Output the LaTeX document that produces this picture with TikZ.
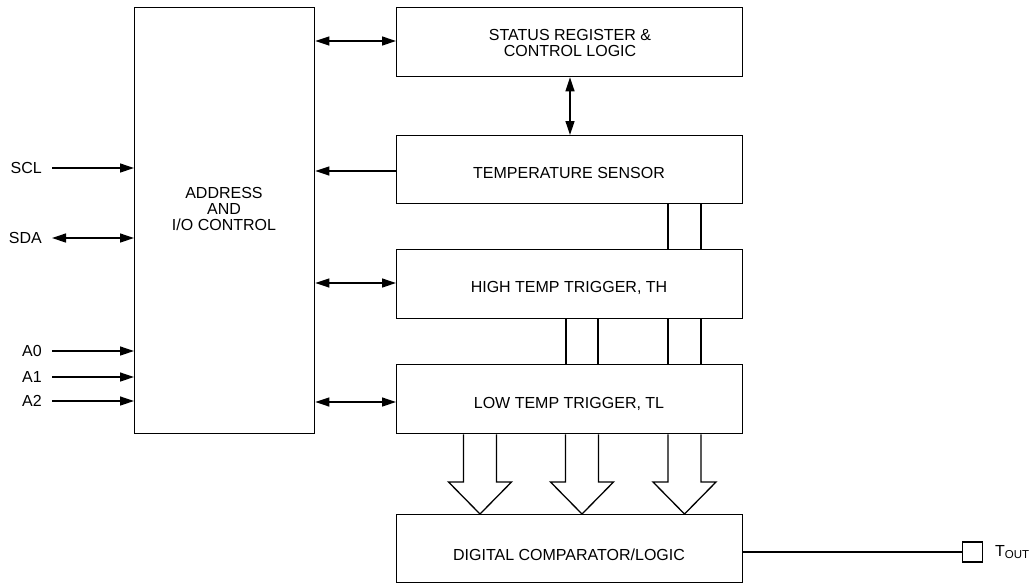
\documentclass[tikz,border=0pt]{standalone}
\usepackage{fontspec}
\setmainfont{Liberation Sans}
\usetikzlibrary{arrows.meta}
\begin{document}
\begin{tikzpicture}[x=1pt,y=-1pt,
  blk/.style={draw, line width=1.3pt, inner sep=0pt, anchor=north west},
  lbl/.style={font=\fontsize{16}{16}\selectfont, align=center, inner sep=0pt},
  conn/.style={line width=1.3pt},
  tip/.style={conn, -{Triangle[length=14pt,width=9pt]}},
  bi/.style={conn, {Triangle[length=14pt,width=9pt]}-{Triangle[length=14pt,width=9pt]}},
  bus/.style={line width=1.3pt, line join=miter}
]
\useasboundingbox (0,0) rectangle (1035,587);

% blocks
\node[blk, minimum width=180pt, minimum height=426pt] (addr) at (134,7) {};
\node[blk, minimum width=346pt, minimum height=69pt] (status) at (396,7) {};
\node[blk, minimum width=346pt, minimum height=68pt] (temp) at (396,135) {};
\node[blk, minimum width=346pt, minimum height=69pt] (high) at (396,249) {};
\node[blk, minimum width=346pt, minimum height=69pt] (low) at (396,364) {};
\node[blk, minimum width=346pt, minimum height=68pt] (comp) at (396,514) {};

% block labels
\node[lbl] (addrtxt) at (224,209) {ADDRESS\\AND\\I/O CONTROL};
\node[lbl] (statustxt) at (570,43) {STATUS REGISTER \&\\CONTROL LOGIC};
\node[lbl] (temptxt) at (569,173) {TEMPERATURE SENSOR};
\node[lbl] (hightxt) at (569,288) {HIGH TEMP TRIGGER, TH};
\node[lbl] (lowtxt) at (569,404) {LOW TEMP TRIGGER, TL};
\node[lbl] (comptxt) at (569,555) {DIGITAL COMPARATOR/LOGIC};

% input pins
\coordinate (scl) at (52,168);
\coordinate (sda) at (52,238);
\coordinate (a0) at (52,351);
\coordinate (a1) at (52,377);
\coordinate (a2) at (52,401);
\node[lbl, anchor=east] (scltxt) at (42,168) {SCL};
\node[lbl, anchor=east] (sdatxt) at (42,238) {SDA};
\node[lbl, anchor=east] (a0txt) at (42,351) {A0};
\node[lbl, anchor=east] (a1txt) at (42,377) {A1};
\node[lbl, anchor=east] (a2txt) at (42,401) {A2};

\draw[tip] (scl) -- (addr.west |- scl);
\draw[bi] (sda) -- (addr.west |- sda);
\draw[tip] (a0) -- (addr.west |- a0);
\draw[tip] (a1) -- (addr.west |- a1);
\draw[tip] (a2) -- (addr.west |- a2);

% connections between blocks
\draw[bi] (addr.east |- 0,41) -- (status.west |- 0,41);
\draw[bi] (status.south -| 570,0) -- (temp.north -| 570,0);
\draw[tip] (temp.west |- 0,171) -- (addr.east |- 0,171);
\draw[bi] (addr.east |- 0,283) -- (high.west |- 0,283);
\draw[bi] (addr.east |- 0,402) -- (low.west |- 0,402);

% buses
\foreach \bx in {668,701} {
  \draw[bus] (temp.south -| \bx,0) -- (high.north -| \bx,0);
}
\foreach \bx in {566,598,668,701} {
  \draw[bus] (high.south -| \bx,0) -- (low.north -| \bx,0);
}
% wide arrows
\foreach \cx in {480,582,684.5} {
  \draw[bus] (low.south -| \cx-16.5,0) -- (\cx-16.5,482) -- (\cx-31.5,482)
     -- (comp.north -| \cx,0) -- (\cx+31.5,482) -- (\cx+16.5,482)
     -- (low.south -| \cx+16.5,0);
}

% output
\node[draw, line width=1.3pt, minimum width=20pt, minimum height=20pt, inner sep=0pt, anchor=west] (tout) at (962,552) {};
\draw[conn] (comp.east |- tout.west) -- (tout.west);
\node[lbl, anchor=west] (touttxt) at (995,552) {T\raisebox{-1.5pt}{\fontsize{11.5}{12}\selectfont OUT}};
\end{tikzpicture}
\end{document}
